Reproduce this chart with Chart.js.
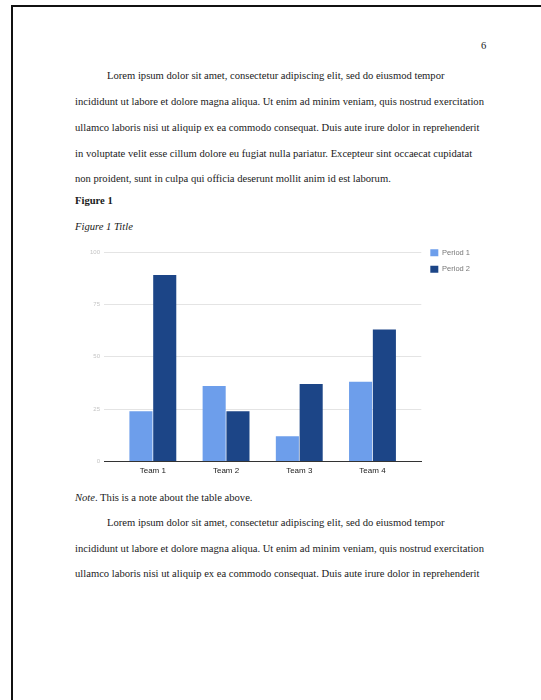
<!DOCTYPE html>
<html>
<head>
<meta charset="utf-8">
<script src="https://cdn.jsdelivr.net/npm/chart.js@4.4.0/dist/chart.umd.min.js"></script>
<style>
  html, body { margin: 0; padding: 0; background: #fff; }
  body { width: 541px; height: 700px; position: relative; overflow: hidden; }
  .page { position: absolute; left: 11px; top: 5px; width: 600px; height: 800px;
          border-top: 2px solid #111; border-left: 2px solid #111; }
  .ln { position: absolute; white-space: nowrap; font-family: "Liberation Serif", "Times New Roman", serif;
        font-size: 10.6px; line-height: 14px; color: #1a1a1a; }
  .b { font-weight: bold; }
  .i { font-style: italic; }
  .chart-box { position: absolute; left: 86px; top: 240px; width: 394px; height: 241px; }
</style>
</head>
<body>
<div class="page"></div>
<div class="ln" style="left:481px;top:39px">6</div>

<div class="ln" style="left:107px;top:69px">Lorem ipsum dolor sit amet, consectetur adipiscing elit, sed do eiusmod tempor</div>
<div class="ln" style="left:75px;top:95px">incididunt ut labore et dolore magna aliqua. Ut enim ad minim veniam, quis nostrud exercitation</div>
<div class="ln" style="left:75px;top:121px">ullamco laboris nisi ut aliquip ex ea commodo consequat. Duis aute irure dolor in reprehenderit</div>
<div class="ln" style="left:75px;top:147px">in voluptate velit esse cillum dolore eu fugiat nulla pariatur. Excepteur sint occaecat cupidatat</div>
<div class="ln" style="left:75px;top:172px">non proident, sunt in culpa qui officia deserunt mollit anim id est laborum.</div>
<div class="ln b" style="left:75px;top:194px">Figure 1</div>
<div class="ln i" style="left:75px;top:220px">Figure 1 Title</div>

<div class="chart-box"><canvas id="chart"></canvas></div>

<div class="ln" style="left:75px;top:491px"><span class="i">Note</span>. This is a note about the table above.</div>
<div class="ln" style="left:107px;top:516px">Lorem ipsum dolor sit amet, consectetur adipiscing elit, sed do eiusmod tempor</div>
<div class="ln" style="left:75px;top:542px">incididunt ut labore et dolore magna aliqua. Ut enim ad minim veniam, quis nostrud exercitation</div>
<div class="ln" style="left:75px;top:567px">ullamco laboris nisi ut aliquip ex ea commodo consequat. Duis aute irure dolor in reprehenderit</div>

<script>
const teams = ["Team 1", "Team 2", "Team 3", "Team 4"];
const period1 = [24, 36, 12, 38];
const period2 = [89, 24, 37, 63];
const yTicks = [0, 25, 50, 75, 100];

const sans = "Liberation Sans, Arial, sans-serif";
const toPoints = (values) => values.map((v, i) => ({ x: i, y: v }));

new Chart(document.getElementById("chart").getContext("2d"), {
  type: "bar",
  data: {
    datasets: [
      {
        label: "Period 1",
        data: toPoints(period1),
        backgroundColor: "#6d9eeb",
        borderWidth: 0,
        categoryPercentage: 0.65,
        barPercentage: 0.97,
      },
      {
        label: "Period 2",
        data: toPoints(period2),
        backgroundColor: "#1c4587",
        borderWidth: 0,
        categoryPercentage: 0.65,
        barPercentage: 0.97,
      },
    ],
  },
  options: {
    responsive: true,
    maintainAspectRatio: false,
    animation: false,
    layout: { padding: 0 },
    plugins: {
      tooltip: { enabled: false },
      // empty title only reserves the space above the plot
      title: {
        display: true,
        text: "",
        padding: 0,
        font: { size: 12, lineHeight: 1 },
      },
      legend: {
        position: "right",
        align: "start",
        fullSize: true,
        labels: {
          boxWidth: 8,
          boxHeight: 7,
          padding: 9,
          color: "#777",
          font: { family: sans, size: 7.5 },
        },
      },
    },
    scales: {
      x: {
        type: "linear",
        offset: false,
        min: -0.667,
        max: 3.667,
        afterBuildTicks: (axis) => {
          axis.ticks = teams.map((t, i) => ({ value: i }));
        },
        grid: { display: false, drawTicks: false, offset: false },
        border: { display: true, color: "#333", width: 1 },
        ticks: {
          autoSkip: false,
          maxRotation: 0,
          padding: 5,
          color: "#222",
          font: { family: sans, size: 8 },
          callback: (value) => teams[value],
        },
      },
      y: {
        min: 0,
        max: 100,
        afterBuildTicks: (axis) => {
          axis.ticks = yTicks.map((v) => ({ value: v }));
        },
        grid: { color: "#e4e4e4", drawTicks: false },
        border: { display: false },
        ticks: {
          padding: 4,
          color: "#c4c4c4",
          font: { family: sans, size: 6 },
        },
      },
    },
  },
});
</script>
</body>
</html>
